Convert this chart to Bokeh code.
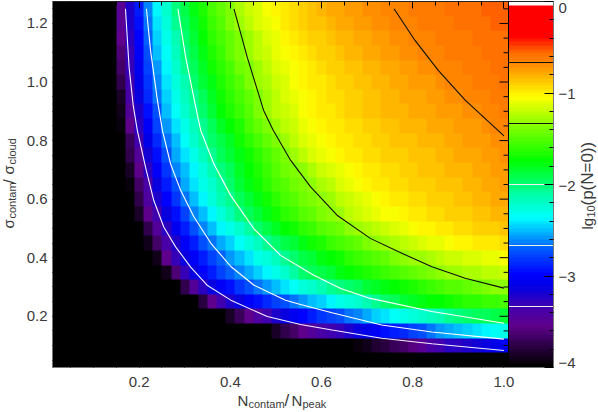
from bokeh.embed import file_html
from bokeh.resources import INLINE
from bokeh.plotting import figure
from bokeh.models import (LinearAxis, Range1d, FixedTicker, Label, LinearColorMapper, PrintfTickFormatter)
import numpy as np

# log10 p(N=0) in hundredths; each row lists the cells from its first visible column up to N=1.00
row_125 = [-350,-320,-290,-262,-240,-221,-204,-190,-177,-166,-156,-146,-136,-127,-120,-113,-107,-102,-97,-93,-89,-86,-83,-80,-78,-76,-74,-72,-70,-68,-67,-65,-64,-63,-62,-61,-60,-59,-58,-57,-56,-56,-55]
row_120 = [-350,-322,-293,-266,-244,-225,-208,-194,-181,-170,-160,-150,-140,-131,-123,-116,-110,-105,-100,-96,-92,-88,-85,-82,-80,-78,-76,-74,-72,-70,-68,-67,-65,-64,-63,-62,-61,-60,-59,-58,-57,-56,-56]
row_115 = [-355,-325,-297,-270,-248,-229,-213,-199,-186,-175,-164,-154,-145,-136,-128,-121,-115,-109,-104,-100,-96,-92,-89,-86,-83,-81,-79,-77,-75,-73,-71,-69,-67,-66,-65,-64,-63,-62,-61,-60,-59,-58,-57]
row_110 = [-360,-329,-301,-274,-252,-233,-217,-203,-190,-178,-167,-157,-148,-139,-131,-124,-118,-112,-107,-103,-99,-95,-92,-89,-86,-84,-82,-80,-78,-76,-74,-72,-70,-68,-66,-65,-64,-63,-62,-61,-60,-59,-58]
row_105 = [-367,-332,-305,-278,-257,-238,-222,-208,-195,-183,-172,-162,-153,-144,-136,-128,-122,-116,-110,-106,-102,-98,-95,-92,-89,-87,-85,-83,-81,-79,-77,-75,-74,-72,-70,-67,-66,-65,-64,-63,-61,-60,-59]
row_100 = [-375,-335,-309,-282,-261,-242,-226,-212,-200,-188,-177,-167,-158,-149,-140,-131,-125,-119,-113,-108,-104,-100,-97,-94,-91,-89,-87,-85,-83,-81,-79,-78,-76,-74,-73,-71,-68,-66,-65,-64,-63,-61,-60]
row_095 = [-385,-340,-313,-287,-266,-247,-231,-217,-205,-193,-182,-172,-163,-154,-145,-136,-129,-122,-116,-111,-106,-102,-99,-96,-93,-91,-89,-87,-85,-83,-81,-80,-78,-77,-75,-74,-72,-70,-67,-66,-65,-63,-62]
row_090 = [-390,-347,-320,-295,-272,-252,-236,-222,-210,-197,-186,-176,-167,-158,-149,-140,-131,-124,-118,-113,-108,-104,-100,-97,-94,-92,-90,-88,-86,-84,-83,-81,-80,-79,-77,-76,-74,-73,-71,-69,-67,-65,-63]
row_085 = [-396,-355,-327,-302,-279,-259,-243,-229,-216,-205,-194,-184,-174,-165,-156,-148,-140,-131,-124,-118,-112,-107,-103,-100,-97,-95,-93,-91,-89,-87,-85,-84,-83,-81,-80,-79,-77,-76,-74,-73,-71,-68,-65]
row_080 = [-398,-368,-335,-310,-287,-266,-250,-236,-223,-211,-200,-190,-181,-172,-163,-155,-147,-138,-129,-122,-116,-111,-107,-103,-100,-97,-95,-93,-91,-90,-88,-86,-85,-84,-82,-81,-79,-78,-76,-75,-73,-71,-69]
row_075 = [-375,-345,-318,-295,-272,-256,-243,-230,-218,-207,-196,-187,-178,-169,-161,-153,-145,-137,-128,-122,-116,-111,-107,-103,-100,-98,-96,-94,-92,-90,-89,-87,-86,-85,-83,-82,-80,-79,-77,-75,-73,-71]
row_070 = [-385,-355,-327,-303,-281,-263,-250,-237,-225,-214,-203,-193,-184,-175,-167,-159,-151,-144,-138,-133,-125,-119,-114,-109,-105,-102,-99,-97,-95,-93,-91,-89,-88,-87,-85,-84,-82,-81,-79,-77,-75,-73]
row_065 = [-396,-365,-337,-313,-290,-272,-256,-243,-231,-220,-209,-197,-187,-178,-170,-163,-156,-149,-143,-138,-133,-127,-121,-116,-111,-107,-103,-100,-98,-96,-94,-92,-91,-89,-88,-86,-85,-83,-81,-80,-78,-76]
row_060 = [-376,-342,-320,-300,-283,-265,-250,-237,-226,-215,-205,-195,-186,-177,-170,-163,-156,-150,-144,-139,-133,-128,-123,-118,-113,-109,-105,-102,-100,-98,-96,-94,-92,-91,-89,-87,-86,-84,-82,-80,-78]
row_055 = [-385,-355,-333,-312,-294,-277,-262,-249,-237,-226,-215,-203,-193,-185,-177,-170,-163,-157,-151,-145,-139,-134,-129,-124,-119,-115,-111,-108,-105,-102,-100,-98,-96,-94,-92,-90,-89,-87,-85,-84,-82]
row_050 = [-375,-345,-325,-305,-290,-275,-263,-251,-240,-230,-220,-210,-200,-191,-183,-176,-169,-163,-157,-151,-146,-141,-135,-130,-125,-121,-117,-113,-110,-107,-104,-101,-99,-97,-95,-93,-92,-90,-89,-88]
row_045 = [-392,-365,-340,-320,-303,-289,-276,-267,-255,-245,-235,-225,-216,-208,-200,-192,-185,-178,-172,-166,-160,-155,-150,-145,-140,-133,-129,-125,-121,-118,-115,-112,-109,-106,-104,-102,-100,-99,-97,-96]
row_040 = [-390,-355,-330,-315,-302,-290,-279,-270,-260,-251,-241,-232,-224,-216,-206,-198,-192,-186,-180,-174,-169,-164,-159,-154,-149,-145,-140,-135,-131,-128,-125,-122,-119,-117,-115,-113,-111,-109,-108]
row_035 = [-392,-360,-330,-313,-300,-291,-280,-271,-263,-255,-247,-239,-230,-221,-211,-200,-195,-190,-185,-180,-176,-171,-167,-163,-158,-154,-150,-147,-143,-139,-135,-131,-129,-127,-125,-123,-122,-120]
row_030 = [-397,-375,-345,-328,-314,-303,-293,-283,-274,-265,-258,-250,-242,-235,-228,-221,-214,-208,-203,-198,-193,-188,-184,-180,-175,-171,-167,-163,-160,-156,-152,-149,-146,-142,-139,-135,-132]
row_025 = [-398,-380,-355,-333,-322,-313,-304,-295,-287,-280,-273,-265,-258,-251,-245,-238,-232,-226,-220,-213,-206,-198,-193,-188,-184,-180,-176,-173,-170,-167,-164,-162,-160,-157,-155]
row_020 = [-398,-385,-370,-355,-343,-333,-322,-312,-305,-298,-290,-284,-279,-273,-267,-261,-254,-247,-241,-235,-230,-225,-220,-216,-212,-208,-203,-199,-196,-193,-190,-187]
row_015 = [-398,-388,-375,-365,-355,-347,-340,-335,-329,-322,-315,-308,-302,-296,-290,-285,-279,-272,-265,-259,-254,-249,-245,-242,-238,-235,-232]
row_010 = [-399,-395,-390,-382,-377,-370,-364,-358,-350,-340,-333,-328,-324,-320,-316,-313,-309,-305]
row_005 = []

rows_top_down = [row_125,row_120,row_115,row_110,row_105,row_100,row_095,row_090,row_085,row_080,row_075,
                 row_070,row_065,row_060,row_055,row_050,row_045,row_040,row_035,row_030,row_025,row_020,
                 row_015,row_010,row_005]

# contours (N, sigma)
c333_n = [.17,.178,.187,.196,.214,.232,.254,.28,.313,.349,.401,.481,.554,.623,.732,.842,1.0]
c333_s = [1.25,1.05,.92,.835,.709,.596,.505,.437,.368,.306,.255,.199,.172,.153,.125,.106,.083]
c267_n = [.216,.225,.24,.251,.269,.291,.32,.357,.401,.452,.521,.554,.623,.732,.842,1.0]
c267_s = [1.25,1.108,.938,.835,.72,.63,.54,.45,.37,.306,.255,.24,.212,.17,.146,.122]
c200_n = [.285,.302,.324,.335,.364,.401,.452,.51,.583,.642,.707,.842,1.0]
c200_s = [1.25,1.085,.915,.835,.72,.612,.498,.408,.34,.295,.261,.216,.176]
c133_n = [.408,.437,.473,.494,.532,.576,.634,.707,.769,.842,.915,1.0]
c133_s = [1.25,1.085,.903,.835,.733,.642,.545,.466,.42,.369,.33,.296]
c067_n = [.759,.805,.856,.915,1.0]
c067_s = [1.25,1.142,1.04,.938,.816]

levels_black = [-2/3,-4/3]
levels_white = [-2,-8/3,-10/3]

x_ticks = [.2,.4,.6,.8,1.0]
x_minor = [.05,.1,.15,.25,.3,.35,.45,.5,.55,.65,.7,.75,.85,.9,.95]
y_ticks = [.2,.4,.6,.8,1.0,1.2]
y_minor = [.05,.1,.15,.25,.3,.35,.45,.5,.55,.65,.7,.75,.85,.9,.95,1.05,1.1,1.15,1.25]
cb_ticks = [0,-1,-2,-3,-4]
cb_minor = [-.2,-.4,-.6,-.8,-1.2,-1.4,-1.6,-1.8,-2.2,-2.4,-2.6,-2.8,-3.2,-3.4,-3.6,-3.8]
cb_labels = ["0","\u22121","\u22122","\u22123","\u22124"]

# IDL-like rainbow + white colour table, 100 levels
stop_idx = [0,16,28,40,56,64,80,88,104,120,144,168,189,212,220,232,254,255]
stop_r = [0,50,95,70,0,0,0,0,0,0,0,130,255,255,255,255,255,255]
stop_g = [0,0,0,0,0,0,80,136,255,255,255,255,255,140,110,0,0,255]
stop_b = [0,80,140,170,230,255,255,255,255,170,0,0,0,0,0,0,0,255]
idx = np.linspace(0,255,100)
palette = ["#%02x%02x%02x" % (int(np.interp(i,stop_idx,stop_r)),int(np.interp(i,stop_idx,stop_g)),int(np.interp(i,stop_idx,stop_b))) for i in idx]
palette[-1] = "#ffffff"

FONT = "Liberation Sans"
INK = "#3a3a3a"
W, H = 598, 412
L, T = 52, 1
x0, x1 = .01, 1.01
y0, y1 = .025, 1.275
def X(px): return x0 + (px-L)/456
def Y(py): return y1 - (py-T)/292.8
def C(py): return -(py-T)*4/366
xend = X(553)

Z = np.full((25,50), -4.5)
for i, r in enumerate(rows_top_down):
    if r:
        Z[24-i, 50-len(r):] = np.array(r)/100
mapper = LinearColorMapper(palette=palette, low=-4, high=0)

p = figure(width=W, height=H, x_range=Range1d(X(0),X(W)), y_range=Range1d(Y(H),Y(0)),
           output_backend="svg", toolbar_location=None, min_border=0)
p.margin = (0,0,0,0)
p.outline_line_color = None
p.grid.visible = False
p.extra_y_ranges = {"cb": Range1d(C(H),C(0))}

p.image(image=[Z], x=x0, y=y0, dw=x1-x0, dh=y1-y0, color_mapper=mapper)
ramp = ((np.arange(100)+.5)/100*4-4).reshape(100,1)
p.image(image=[ramp], x=x1, y=-4, dw=xend-x1, dh=4, color_mapper=mapper, y_range_name="cb")

for nn, ss, col in [(c333_n,c333_s,"#f4f0ff"),(c267_n,c267_s,"#ffffff"),(c200_n,c200_s,"#ffffff"),(c133_n,c133_s,"#101010"),(c067_n,c067_s,"#101010")]:
    p.line(nn, ss, line_color=col, line_width=1.1)
for lv in levels_black:
    p.line([x1,xend],[lv,lv],line_color="#101010",line_width=1,y_range_name="cb")
for lv in levels_white:
    p.line([x1,xend],[lv,lv],line_color="#eeeeee",line_width=1,y_range_name="cb")

# inward ticks along the right edge of the map
dx = 1/456
p.line([x1,x1],[y0,y1],line_color="black",line_width=1)
p.segment(x0=[x1]*len(y_ticks), x1=[x1-9*dx]*len(y_ticks), y0=y_ticks, y1=y_ticks, line_color="black", line_width=1)
p.segment(x0=[x1]*len(y_minor), x1=[x1-5*dx]*len(y_minor), y0=y_minor, y1=y_minor, line_color="black", line_width=1)

ax = p.xaxis[0]
ax.ticker = FixedTicker(ticks=x_ticks, minor_ticks=x_minor)
ax.fixed_location = y0
ax.bounds = (x0, xend)
ax.formatter = PrintfTickFormatter(format="%.1f")
ay = p.yaxis[0]
ay.ticker = FixedTicker(ticks=y_ticks, minor_ticks=y_minor)
ay.fixed_location = x0
ay.bounds = (y0, y1)
ay.formatter = PrintfTickFormatter(format="%.1f")
for a in (ax, ay):
    a.major_label_text_font = FONT
    a.major_label_text_font_size = "15px"
    a.major_label_text_color = INK
    a.major_tick_in, a.major_tick_out = 9, 0
    a.minor_tick_in, a.minor_tick_out = 5, 0
    a.major_tick_line_color = "black"
    a.minor_tick_line_color = "black"
    a.axis_line_color = "#777777"
ax.major_label_standoff = 9
ay.major_label_standoff = 5

top = LinearAxis(ticker=FixedTicker(ticks=x_ticks, minor_ticks=x_minor), fixed_location=y1, bounds=(x0,xend),
                 major_label_text_color=None, major_label_text_font_size="0px", major_label_standoff=0,
                 major_tick_in=7, major_tick_out=0, minor_tick_in=4, minor_tick_out=0,
                 major_tick_line_color="black", minor_tick_line_color="black", axis_line_color="#222222")
p.add_layout(top, "above")
right = LinearAxis(y_range_name="cb", ticker=FixedTicker(ticks=cb_ticks, minor_ticks=cb_minor), fixed_location=xend, bounds=(-4,0),
                   major_label_text_color=None, major_label_text_font_size="0px", major_label_standoff=0,
                   major_tick_in=9, major_tick_out=0, minor_tick_in=4, minor_tick_out=0,
                   major_tick_line_color="black", minor_tick_line_color="black", axis_line_color="#777777")
p.add_layout(right, "right")

def text(px, py, s, size=15, angle=0.0):
    p.add_layout(Label(x=X(px), y=Y(py), text=s, text_font=FONT, text_font_size=f"{size}px", text_color=INK,
                       angle=angle, text_align="left", text_baseline="middle"))

for s, py in zip(cb_labels, [7,93,185,276,362]):
    text(558, py, s)

for px, s, size in [(237,"N",15),(248,"contam",11),(284,"/",17),(291,"N",15),(302,"peak",11)]:
    text(px, 399.5 if size!=11 else 403.5, s, size)

up = np.pi/2
for py, s, size in [(228,"\u03c3",15),(218,"contam",11),(183,"/",15),(174,"\u03c3",15),(164,"cloud",11)]:
    text(8 if size!=11 else 11, py, s, size, up)
for py, s, size in [(229,"lg",15),(217,"10",11),(205,"(p(N=0))",17)]:
    text(587 if size!=11 else 590, py, s, size, up)

open("out.html","w").write(file_html(p, INLINE))
